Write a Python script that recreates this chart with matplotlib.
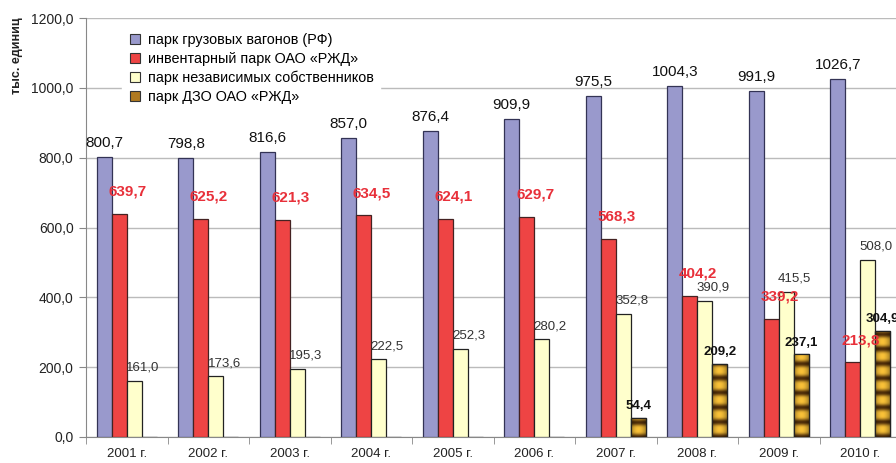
import matplotlib
matplotlib.use("Agg")
import matplotlib.pyplot as plt
import numpy as np
from matplotlib.lines import Line2D

plt.rcParams['font.family'] = ['Liberation Sans', 'DejaVu Sans']

years = ['2001 г.', '2002 г.', '2003 г.', '2004 г.', '2005 г.',
         '2006 г.', '2007 г.', '2008 г.', '2009 г.', '2010 г.']
park_rf = [800.7, 798.8, 816.6, 857.0, 876.4, 909.9, 975.5, 1004.3, 991.9, 1026.7]
park_rzd = [639.7, 625.2, 621.3, 634.5, 624.1, 629.7, 568.3, 404.2, 339.2, 213.8]
park_own = [161.0, 173.6, 195.3, 222.5, 252.3, 280.2, 352.8, 390.9, 415.5, 508.0]
park_dzo = [0, 0, 0, 0, 0, 0, 54.4, 209.2, 237.1, 304.9]

legend_names = ['парк грузовых вагонов (РФ)', 'инвентарный парк ОАО «РЖД»',
                'парк независимых собственников', 'парк ДЗО ОАО «РЖД»']
yticks = [0, 200, 400, 600, 800, 1000, 1200]

def fmt(v):
    return ('%.1f' % v).replace('.', ',')

fig = plt.figure(figsize=(8.96, 4.63), dpi=100)
ax = fig.add_axes([86/896, 1-437/463, 815/896, 419/463])

x = np.arange(len(years))
bw = 0.184
c_blue, c_red, c_yel = '#9999CC', '#EE4444', '#FFFFCC'

b1 = ax.bar(x - 1.5*bw, park_rf, bw, color=c_blue, edgecolor='#333355', lw=0.9, zorder=3)
b2 = ax.bar(x - 0.5*bw, park_rzd, bw, color=c_red, edgecolor='#442222', lw=0.9, zorder=3)
b3 = ax.bar(x + 0.5*bw, park_own, bw, color=c_yel, edgecolor='#222222', lw=0.9, zorder=3)
b4 = ax.bar(x + 1.5*bw, park_dzo, bw, color='#D9A030', edgecolor='#222222', lw=0.9, zorder=3)

# striped golden fill for the DZO bars
gold = np.array([0.98, 0.76, 0.22])
dark = np.array([0.30, 0.17, 0.03])
for rect, h in zip(b4, park_dzo):
    if h <= 0:
        continue
    yy = np.linspace(h, 0, 120)[:, None]
    xx = np.linspace(0, 1, 20)[None, :]
    t = (0.5 + 0.5*np.cos(2*np.pi*yy/42.0))**2
    shade = 0.7 + 0.3*np.sin(np.pi*xx)
    img = (gold[None, None, :]*(1-t[..., None]) + dark[None, None, :]*t[..., None]) * shade[..., None]
    x0 = rect.get_x()
    im = ax.imshow(np.clip(img, 0, 1), extent=(x0, x0+bw, 0, h), aspect='auto',
                   zorder=3.5, interpolation='bilinear')
    im.set_clip_path(rect)
    ax.bar(x0 + bw/2, h, bw, fill=False, edgecolor='#222222', lw=0.9, zorder=4)

for i in range(len(years)):
    ax.annotate(fmt(park_rf[i]), (x[i] - 1.5*bw, park_rf[i]), xytext=(0, 5),
                textcoords='offset points', ha='center', va='bottom', fontsize=11,
                color='#111111', zorder=6)
    ax.annotate(fmt(park_rzd[i]), (x[i] - 0.5*bw, park_rzd[i]), xytext=(6, 11),
                textcoords='offset points', ha='center', va='bottom', fontsize=11,
                color='#E8303A', fontweight='bold', zorder=6)
    ax.annotate(fmt(park_own[i]), (x[i] + 0.5*bw, park_own[i]), xytext=(6, 5),
                textcoords='offset points', ha='center', va='bottom', fontsize=9.5,
                color='#333333', zorder=6)
    if park_dzo[i] > 0:
        ax.annotate(fmt(park_dzo[i]), (x[i] + 1.5*bw, park_dzo[i]), xytext=(0, 4),
                    textcoords='offset points', ha='center', va='bottom', fontsize=9.5,
                    color='#111111', fontweight='bold', zorder=6)

ax.set_xlim(-0.5, len(years) - 0.5)
ax.set_ylim(0, 1200)
ax.set_yticks(yticks)
ax.set_yticklabels([fmt(v) for v in yticks], fontsize=10, color='#222222')
ax.set_xticks(x)
ax.set_xticklabels(years, fontsize=9.5, color='#222222')
ax.set_xticks(np.arange(len(years)) - 0.5, minor=True)
ax.tick_params(axis='x', which='major', length=0, pad=8)
ax.tick_params(axis='x', which='minor', length=5, color='#888888')
ax.tick_params(axis='y', length=5, color='#888888', pad=4)
ax.yaxis.grid(True, color='#BBBBBB', lw=1.0, zorder=0)
ax.set_axisbelow(True)
for s in ['top', 'right']:
    ax.spines[s].set_visible(False)
ax.spines['left'].set_color('#888888')
ax.spines['bottom'].set_color('#888888')

fig.text(17/896, 1-56/463, 'тыс. единиц', rotation=90, ha='center', va='center',
         fontsize=9, fontweight='bold', color='#222222')

handles = [Line2D([], [], ls='none', marker='s', ms=7, mfc=c, mec='#333333', mew=0.8)
           for c in [c_blue, c_red, c_yel, '#B07A20']]
leg = ax.legend(handles, legend_names, loc='upper left', bbox_to_anchor=(0.035, 0.995),
                frameon=True, fontsize=10.4, handlelength=1.0, handletextpad=0.45,
                labelspacing=0.33, borderpad=0.4)
leg.get_frame().set_edgecolor('white')
leg.get_frame().set_facecolor('white')
leg.get_frame().set_alpha(1)
leg.set_zorder(5)

fig.savefig('out.png', dpi=100)
